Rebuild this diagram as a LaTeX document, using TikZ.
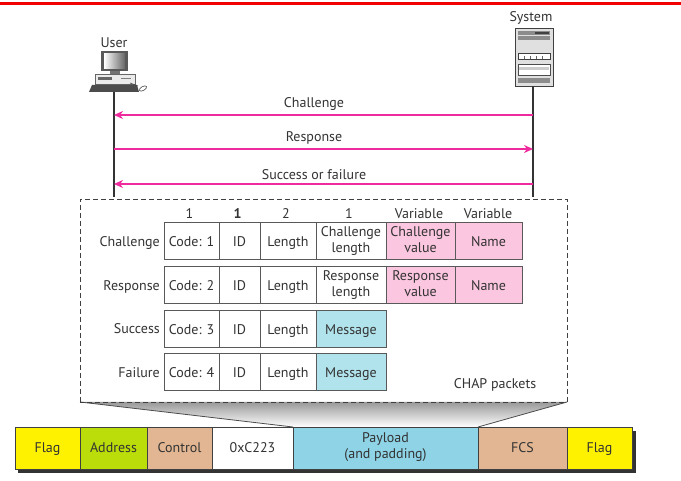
\documentclass[tikz,border=0pt]{standalone}
\usepackage{fontspec}
\setmainfont{PT Sans}
\usetikzlibrary{arrows.meta,positioning}
\definecolor{msgpink}{HTML}{EE2A9C}
\definecolor{valpink}{HTML}{FBC6DF}
\definecolor{msgblue}{HTML}{B1E3EC}
\definecolor{payblue}{HTML}{8ED3E6}
\definecolor{ctlbrown}{HTML}{E2B692}
\definecolor{addrgreen}{HTML}{BBDD0A}
\definecolor{txtgray}{HTML}{333333}
\definecolor{toprule}{HTML}{F00000}
\begin{document}
\begin{tikzpicture}[x=1pt,y=-1pt,
		every node/.style={font=\fontsize{14}{16}\selectfont,text=txtgray,
			execute at begin node={\rule{0pt}{14pt}},execute at end node={\rule[-4pt]{0pt}{0pt}}},
		fld/.style={draw=black!65,line width=1pt,inner sep=0pt,align=center,minimum height=37pt},
		frm/.style={draw=black!75,line width=0.9pt,inner sep=0pt,align=center,minimum height=42pt},
		txt/.style={inner sep=0pt,align=center},
		two/.style={execute at begin node={\rule{0pt}{18pt}}},
		life/.style={black!80,line width=1.2pt},
		msg/.style={msgpink,line width=1.4pt,-{Stealth[length=9pt,width=8pt]}}]
		\useasboundingbox (0,0) rectangle (681,481);
		\fill [white] (0,0) rectangle (681,481);
		\fill [toprule] (0,2.2) rectangle (681,4.8);
		% end points
		\path 	(114,92) coordinate (utop)
		        (114,197) coordinate (ubot)
		        (533,197) coordinate (sbot)
		        (114,115) coordinate (u1) (533,115) coordinate (s1)
		        (114,149) coordinate (u2) (533,149) coordinate (s2)
		        (114,184) coordinate (u3) (533,184) coordinate (s3);
		% user
		\path 	(114,43) node (user) [txt] {User}
		        (531,17) node (system) [txt] {System};
		\fill [black!65] (101,51) rectangle (128,71);
		\shade [left color=white,right color=black!60] (104,54) rectangle (125,69);
		\fill [black!55] (110,71) rectangle (120,74);
		\draw [black!60,fill=black!8,line width=0.5pt] (95,74) rectangle (135,84);
		\fill [black!60] (98,77) rectangle (112,80);
		\fill [black!50] (121,78) rectangle (131,79.5);
		\fill [black!70] (92,85) -- (137,85) -- (139,92) -- (89,92) -- cycle;
		\draw [black!70,line width=0.6pt] (130,83) -- (138,86);
		\draw [black!70,fill=white,line width=0.6pt,rotate around={30:(143,88.5)}] (143,88.5) ellipse (4 and 2);
		% system
		\node (srv) [draw=black!75,fill=black!12,line width=0.9pt,inner sep=0pt,minimum width=38pt,minimum height=58pt] at (534,57) {};
		\fill [black!45] (518,31) rectangle (550,35);
		\fill [black!75] (535,32) rectangle (549,34.5);
		\fill [black!45] (518,36.5) rectangle (550,40);
		\draw [black!75,fill=white,line width=0.6pt] (518,53) rectangle (550,59);
		\draw [black!60,line width=0.4pt] (524,56) -- (524,59) (530,56) -- (530,59) (536,56) -- (536,59) (542,56) -- (542,59);
		\draw [black!70,fill=white,line width=0.6pt] (518,64) rectangle (550,75);
		\fill [black!20] (519,67) rectangle (549,70);
		\fill [black!45] (518,78) rectangle (550,83);
		% lifelines and messages
		\draw [life] (utop) -- (ubot);
		\draw [life] (srv.south) ++(-1,0) -- (sbot);
		\draw [msg] (s1) -- (u1);
		\draw [msg] (u2) -- (s2);
		\draw [msg] (s3) -- (u3);
		\path 	(314,103) node (lchal) [txt] {Challenge}
		        (314,137) node (lresp) [txt] {Response}
		        (314,175) node (lsucc) [txt] {Success or failure};
		% funnel
		\shade [top color=black!40,bottom color=white] (80,402) -- (567,402) -- (478,427) -- (293,427) -- cycle;
		\draw [black!70,line width=0.8pt] (80,402) -- (293,427) (567,402) -- (478,427);
		\draw [black!75,line width=0.9pt,dash pattern=on 5pt off 3pt] (80,402) -- (80,199) -- (567,199) -- (567,402) -- cycle;
		% sizes
		\path 	(189.5,214) node (h1) [txt] {1}
		        (237.5,214) node (h2) [txt,font=\fontsize{14}{16}\selectfont\bfseries] {1}
		        (286,214) node (h3) [txt] {2}
		        (349,214) node (h4) [txt] {1}
		        (419,214) node (h5) [txt] {Variable}
		        (488,214) node (h6) [txt] {Variable};
		% challenge
		\path 	(160,242) node (c0) [txt,anchor=east] {Challenge}
		        (191.5,241.5) node (c1) [fld,minimum width=55pt] {Code: 1}
		        (239.5,241.5) node (c2) [fld,minimum width=41pt] {ID}
		        (288,241.5) node (c3) [fld,minimum width=56pt] {Length}
		        (351,241.5) node (c4) [fld,two,minimum width=70pt] {Challenge\\length}
		        (420.5,241.5) node (c5) [fld,two,minimum width=69pt,fill=valpink] {Challenge\\value}
		        (488.5,241.5) node (c6) [fld,minimum width=67pt,fill=valpink] {Name};
		% response
		\path 	(160,285.5) node (r0) [txt,anchor=east] {Response}
		        (191.5,285.5) node (r1) [fld,minimum width=55pt] {Code: 2}
		        (239.5,285.5) node (r2) [fld,minimum width=41pt] {ID}
		        (288,285.5) node (r3) [fld,minimum width=56pt] {Length}
		        (351,285.5) node (r4) [fld,two,minimum width=70pt] {Response\\length}
		        (420.5,285.5) node (r5) [fld,two,minimum width=69pt,fill=valpink] {Response\\value}
		        (488.5,285.5) node (r6) [fld,minimum width=67pt,fill=valpink] {Name};
		% success
		\path 	(160,329) node (s0) [txt,anchor=east] {Success}
		        (191.5,329.5) node (s1c) [fld,minimum width=55pt] {Code: 3}
		        (239.5,329.5) node (s2c) [fld,minimum width=41pt] {ID}
		        (288,329.5) node (s3c) [fld,minimum width=56pt] {Length}
		        (351,329.5) node (s4c) [fld,minimum width=70pt,fill=msgblue] {Message};
		% failure
		\path 	(160,372.5) node (f0) [txt,anchor=east] {Failure}
		        (191.5,372.5) node (f1) [fld,minimum width=55pt] {Code: 4}
		        (239.5,372.5) node (f2) [fld,minimum width=41pt] {ID}
		        (288,372.5) node (f3) [fld,minimum width=56pt] {Length}
		        (351,372.5) node (f4) [fld,minimum width=70pt,fill=msgblue] {Message};
		\path 	(495,384) node (chap) [txt] {CHAP packets};
		% ppp frame
		\fill [black!80] (18,431) rectangle (636,473);
		\path 	(47.5,448) node (flag1) [frm,minimum width=65pt,fill=yellow] {Flag}
		        (113.5,448) node (addr) [frm,minimum width=67pt,fill=addrgreen] {Address}
		        (179.5,448) node (ctrl) [frm,minimum width=65pt,fill=ctlbrown] {Control}
		        (252.5,448) node (prot) [frm,minimum width=81pt,fill=white] {0xC223}
		        (385.5,448) node (payl) [frm,two,minimum width=185pt,fill=payblue] {Payload\\(and padding)}
		        (522.5,448) node (fcs) [frm,minimum width=89pt,fill=ctlbrown] {FCS}
		        (599.5,448) node (flag2) [frm,minimum width=65pt,fill=yellow] {Flag};
\end{tikzpicture}
\end{document}
